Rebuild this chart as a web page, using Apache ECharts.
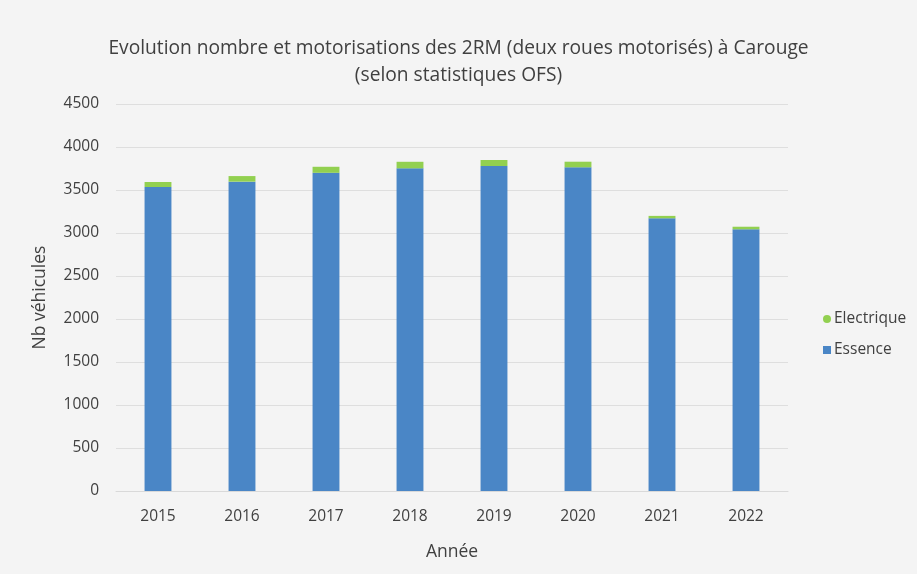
<!DOCTYPE html>
<html>
<head>
<meta charset="utf-8">
<script src="https://cdn.jsdelivr.net/npm/echarts@6/dist/echarts.min.js"></script>
<style>
  html, body { margin: 0; padding: 0; background: #ffffff; }
  #chart { width: 917px; height: 574px; }
</style>
</head>
<body>
<div id="chart"></div>
<script>
// Registered two-wheelers in Carouge by year and motorisation
const years = ['2015', '2016', '2017', '2018', '2019', '2020', '2021', '2022'];
const essence = [3535, 3597, 3700, 3752, 3779, 3764, 3171, 3043];
const electrique = [58, 65, 70, 76, 70, 65, 28, 30];
const yTicks = [0, 500, 1000, 1500, 2000, 2500, 3000, 3500, 4000, 4500];

const textColor = '#404040';
const fontFamily = '"Open Sans", "Noto Sans", sans-serif';

const chart = echarts.init(document.getElementById('chart'));
chart.setOption({
  backgroundColor: '#f4f4f4',
  animation: false,
  textStyle: { fontFamily: fontFamily },
  title: {
    text: 'Evolution nombre et motorisations des 2RM (deux roues motorisés) à Carouge\n(selon statistiques OFS)',
    left: 'center',
    top: 30,
    textStyle: {
      fontFamily: fontFamily,
      fontSize: 19.2,
      fontWeight: 'normal',
      color: textColor,
      lineHeight: 27
    }
  },
  legend: {
    orient: 'vertical',
    left: 818,
    top: 306,
    itemWidth: 8,
    itemHeight: 8,
    itemGap: 15,
    data: [
      { name: 'Electrique', icon: 'circle' },
      { name: 'Essence', icon: 'rect' }
    ],
    textStyle: { color: textColor, fontSize: 15.5, fontFamily: fontFamily, padding: [0, 0, 0, -2] }
  },
  grid: {
    left: 116,
    right: 129,
    top: 104,
    bottom: 83
  },
  xAxis: {
    type: 'category',
    data: years,
    name: 'Année',
    nameLocation: 'middle',
    nameGap: 52,
    nameTextStyle: { color: textColor, fontSize: 17.5, fontFamily: fontFamily },
    axisTick: { show: false },
    axisLine: { lineStyle: { color: '#d9d9d9' } },
    axisLabel: { color: textColor, fontSize: 15.5, margin: 18 }
  },
  yAxis: {
    type: 'value',
    min: yTicks[0],
    max: yTicks[yTicks.length - 1],
    interval: 500,
    name: 'Nb véhicules',
    nameLocation: 'middle',
    nameGap: 67,
    nameRotate: 90,
    nameTextStyle: { color: textColor, fontSize: 17.5, fontFamily: fontFamily },
    axisLine: { show: false },
    axisTick: { show: false },
    axisLabel: {
      color: textColor,
      fontSize: 15.5,
      margin: 17,
      formatter: function (v) { return String(v); }
    },
    splitLine: { lineStyle: { color: '#dedede', width: 1 } }
  },
  series: [
    {
      name: 'Essence',
      type: 'bar',
      stack: 'total',
      data: essence,
      barWidth: '32%',
      itemStyle: { color: '#4a86c6' }
    },
    {
      name: 'Electrique',
      type: 'bar',
      stack: 'total',
      data: electrique,
      barWidth: '32%',
      itemStyle: { color: '#92d050' }
    }
  ]
});
</script>
</body>
</html>
